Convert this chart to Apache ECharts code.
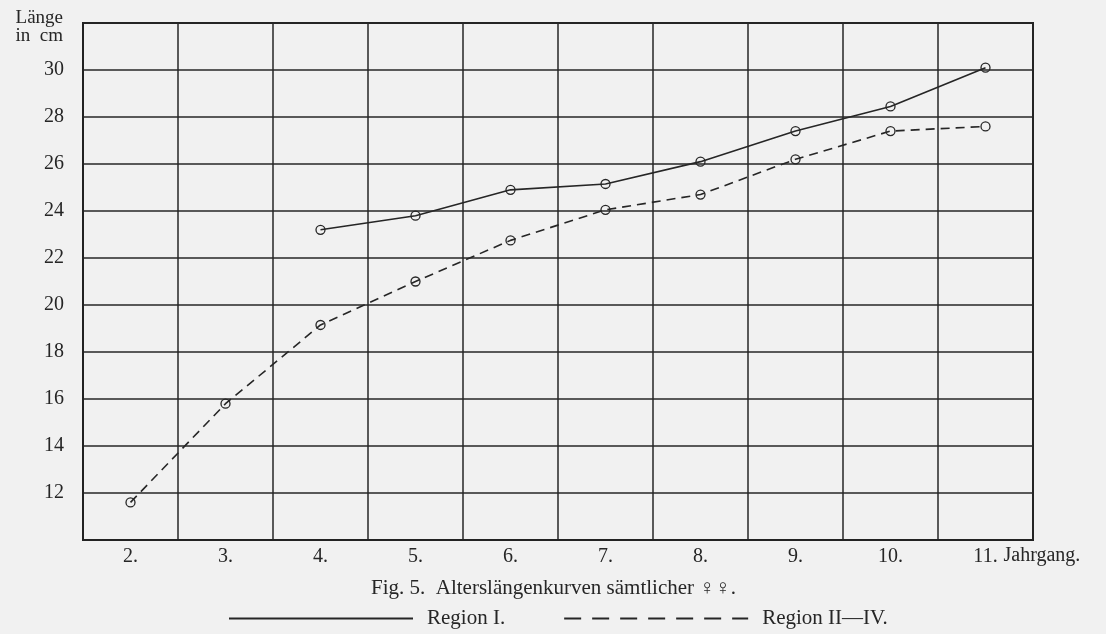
<!DOCTYPE html>
<html>
<head>
<meta charset="utf-8">
<script src="https://cdn.jsdelivr.net/npm/echarts@6/dist/echarts.min.js"></script>
<style>
html,body{margin:0;padding:0;background:#f1f1f1;}
#chart{width:1106px;height:634px;}
</style>
</head>
<body>
<div id="chart"></div>
<script>
// Data
var years = ['2', '3', '4', '5', '6', '7', '8', '9', '10', '11'];
var regionI = [null, null, 23.2, 23.8, 24.9, 25.15, 26.1, 27.4, 28.45, 30.1];
var regionIIIV = [11.6, 15.8, 19.15, 21.0, 22.75, 24.05, 24.7, 26.2, 27.4, 27.6];
var yTicksShown = [12, 14, 16, 18, 20, 22, 24, 26, 28, 30];

var FONT = '"Liberation Serif", "DejaVu Serif", serif';
var INK = '#262626';

var chart = echarts.init(document.getElementById('chart'), null, {renderer: 'canvas'});
chart.setOption({
  backgroundColor: '#f1f1f1',
  animation: false,
  textStyle: {fontFamily: FONT, color: INK},
  title: {
    text: 'Fig. 5.  Alterslängenkurven sämtlicher ♀♀.',
    left: 366,
    top: 573,
    textStyle: {fontFamily: FONT, fontSize: 21, fontWeight: 'normal', color: INK}
  },
  legend: {
    left: 223,
    top: 603,
    itemWidth: 184,
    itemHeight: 14,
    itemGap: 58,
    itemStyle: {opacity: 0},
    textStyle: {fontFamily: FONT, fontSize: 21, color: INK, padding: [0, 0, 0, 9]},
    data: [
      {name: 'Region I.'},
      {name: 'Region II—IV.', lineStyle: {type: [17, 11]}}
    ]
  },
  grid: {
    left: 83, right: 73, top: 23, bottom: 94,
    show: true, borderColor: '#222', borderWidth: 2
  },
  xAxis: {
    type: 'category',
    data: years,
    boundaryGap: true,
    axisLine: {show: true, lineStyle: {color: '#222', width: 2}},
    axisTick: {show: false},
    axisLabel: {
      margin: 7, fontSize: 20, fontFamily: FONT, color: INK,
      formatter: function (v) { return v + '.'; }
    },
    splitLine: {show: true, lineStyle: {color: '#262626', width: 1.5}},
    name: 'Jahrgang.',
    nameLocation: 'end',
    nameGap: -34,
    nameTextStyle: {fontFamily: FONT, fontSize: 20, color: INK, verticalAlign: 'top', align: 'left', padding: [6, 0, 0, 0]}
  },
  yAxis: {
    type: 'value',
    min: 10, max: 32, interval: 2,
    axisLine: {show: true, lineStyle: {color: '#222', width: 2}},
    axisTick: {show: false},
    axisLabel: {
      margin: 19, fontSize: 20, fontFamily: FONT, color: INK,
      formatter: function (v) { return yTicksShown.indexOf(v) >= 0 ? String(v) : ''; }
    },
    splitLine: {show: true, lineStyle: {color: '#262626', width: 1.5}},
    name: 'Länge\nin  cm',
    nameLocation: 'end',
    nameGap: -4,
    nameTextStyle: {fontFamily: FONT, fontSize: 19, color: INK, align: 'right', verticalAlign: 'middle', lineHeight: 18, padding: [0, 20, 0, 0]}
  },
  series: [
    {
      name: 'Region I.',
      type: 'line',
      data: regionI,
      connectNulls: false,
      symbol: 'circle',
      symbolSize: 9,
      lineStyle: {color: INK, width: 1.6, type: 'solid'},
      itemStyle: {color: 'rgba(0,0,0,0)', borderColor: INK, borderWidth: 1.3}
    },
    {
      name: 'Region II—IV.',
      type: 'line',
      data: regionIIIV,
      symbol: 'circle',
      symbolSize: 9,
      lineStyle: {color: INK, width: 1.6, type: [9, 6]},
      itemStyle: {color: 'rgba(0,0,0,0)', borderColor: INK, borderWidth: 1.3}
    }
  ]
});
</script>
</body>
</html>
